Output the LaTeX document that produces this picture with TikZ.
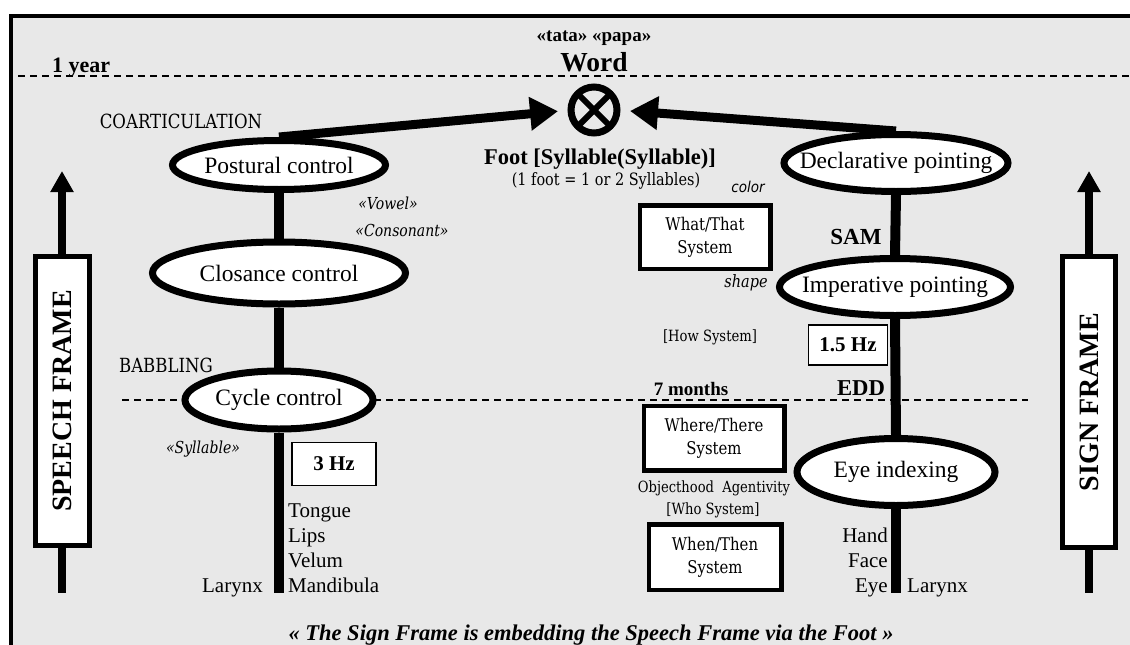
\documentclass[tikz,border=0pt]{standalone}
\usepackage{fontspec}
\setmainfont{Liberation Serif}
\newfontfamily\slab{DejaVu Serif}[FakeStretch=0.85]
\newfontfamily\sansob{DejaVu Sans}[FakeStretch=0.9]
\usetikzlibrary{arrows.meta,shapes.geometric,backgrounds}
\definecolor{bggray}{RGB}{232,232,232}
\newcommand\fsz[2]{\fontsize{#1}{#2}\selectfont}
\begin{document}
\begin{tikzpicture}[x=1pt,y=-1pt,
  ell/.style={ellipse, draw, line width=7pt, fill=white, inner sep=0pt, font=\fsz{23.5}{27}},
  sysbox/.style={rectangle, draw, line width=4.5pt, fill=white, align=center, inner sep=0pt, font=\slab\fsz{17.5}{23}},
  hzbox/.style={rectangle, draw, line width=1.8pt, fill=white, inner sep=0pt, font=\bfseries\fsz{21}{24}},
  framebox/.style={rectangle, draw, line width=5pt, fill=white, inner sep=0pt},
  crossnode/.style={circle, draw, line width=7pt, minimum size=46pt, inner sep=0pt, outer sep=0pt},
  stem/.style={line width=10pt},
  frameline/.style={line width=8pt},
  bigarrow/.style={line width=9pt, -{Triangle[length=28pt,width=32pt]}, shorten >=13pt},
  dashline/.style={line width=1.5pt, dash pattern=on 7pt off 5pt},
  lbl/.style={inner sep=0pt},
  slabtxt/.style={lbl, font=\slab\fsz{19.5}{22}},
  slabit/.style={lbl, font=\slab\itshape\fsz{16.5}{20}},
  boldtxt/.style={lbl, font=\bfseries\fsz{#1}{#1}},
  plaintxt/.style={lbl, font=\fsz{21}{24}}
]
\useasboundingbox (0,0) rectangle (1130,645);

% ellipses
\node[ell, minimum width=213pt, minimum height=49pt] (post) at (279,165) {\makebox[0pt]{Postural control}};
\node[ell, minimum width=253pt, minimum height=62pt] (clos) at (279,273) {\makebox[0pt]{Closance control}};
\node[ell, minimum width=188pt, minimum height=58pt] (cyc) at (279,400) {\makebox[0pt]{Cycle control}};
\node[ell, minimum width=224pt, minimum height=57pt] (decl) at (896,163) {\makebox[0pt]{Declarative pointing}};
\node[ell, minimum width=231pt, minimum height=57pt] (imp) at (895,287) {\makebox[0pt]{Imperative pointing}};
\node[ell, minimum width=198pt, minimum height=67pt] (eye) at (896,472) {\makebox[0pt]{Eye indexing}};

% foot symbol
\node[crossnode] (ot) at (594,110) {};
\draw[line width=6pt] (ot.45) -- (ot.225);
\draw[line width=6pt] (ot.135) -- (ot.315);

% boxes
\node[sysbox, minimum width=130.5pt, minimum height=63.5pt] (what) at (705,237) {What/That\\System};
\node[sysbox, minimum width=140.5pt, minimum height=64.5pt] (where) at (714,438) {Where/There\\System};
\node[sysbox, minimum width=132.5pt, minimum height=65.5pt] (when) at (715,557) {When/Then\\System};
\node[hzbox, minimum width=84pt, minimum height=43pt] (hz3) at (334,464) {3 Hz};
\node[hzbox, minimum width=79pt, minimum height=40pt] (hz15) at (848,345) {1.5 Hz};
\node[framebox, minimum width=54pt, minimum height=289pt] (speech) at (62,401) {\rotatebox{90}{\bfseries\fsz{28}{30}SPEECH FRAME}};
\node[framebox, minimum width=53pt, minimum height=291pt] (sign) at (1089,402) {\rotatebox{90}{\bfseries\fsz{28}{30}SIGN FRAME}};

% coordinates for free ends
\coordinate (lend) at (279,593);
\coordinate (rend) at (896,593);
\coordinate (stip) at (62,171);
\coordinate (sbot) at (62,593);
\coordinate (gtip) at (1089,171);
\coordinate (gbot) at (1089,593);
\coordinate (d1a) at (18,76);
\coordinate (d1b) at (1130,76);
\coordinate (d2a) at (122,400);
\coordinate (d2b) at (1028,400);

\begin{pgfonlayer}{background}
  \fill[white] (0,0) rectangle (1130,645);
  \fill[bggray] (11,16) rectangle (1130,645);
  \draw[line width=4pt] (11,645) -- (11,16) -- (1130,16);
  \draw[dashline] (d1a) -- (d1b);
  \draw[dashline] (d2a) -- (d2b);
  \draw[stem] (post.south) -- (clos.north);
  \draw[stem] (clos.south) -- (cyc.north);
  \draw[stem] (cyc.south) -- (lend);
  \draw[stem] (decl.south) -- (imp.north);
  \draw[stem] (imp.south) -- (eye.north);
  \draw[stem] (eye.south) -- (rend);
  \draw[bigarrow] (post.north) -- (ot.west);
  \draw[bigarrow] (decl.north) -- (ot.east);
  \draw[frameline, -{Triangle[length=21pt,width=22pt]}] (speech.north) -- (stip);
  \draw[frameline] (speech.south) -- (sbot);
  \draw[frameline, -{Triangle[length=21pt,width=22pt]}] (sign.north) -- (gtip);
  \draw[frameline] (sign.south) -- (gbot);
\end{pgfonlayer}

% labels
\node[boldtxt=22, anchor=base west] (year) at (52,72) {1 year};
\node[boldtxt=19] (tata) at (594,38) {«tata» «papa»};
\node[boldtxt=27.5] (word) at (594,62) {Word};
\node[slabtxt] (coart) at (181,121) {COARTICULATION};
\node[slabtxt] (babb) at (166,365) {BABBLING};
\node[slabit] (vowel) at (388,203) {«Vowel»};
\node[slabit] (cons) at (402,230) {«Consonant»};
\node[slabit] (syl) at (203,449) {«Syllable»};
\node[boldtxt=22.5] (foot) at (600,159) {Foot [Syllable(Syllable)]};
\node[lbl, font=\slab\fsz{17}{20}] (footsub) at (606,181) {(1 foot = 1 or 2 Syllables)};
\node[lbl, font=\sansob\itshape\fsz{15}{18}] (color) at (748,187) {color};
\node[slabit, font=\slab\itshape\fsz{17}{20}] (shape) at (746,283) {shape};
\node[lbl, font=\slab\fsz{15.5}{18}] (how) at (710,337) {[How System]};
\node[boldtxt=19] (months) at (691,389) {7 months};
\node[boldtxt=23] (sam) at (856,237) {SAM};
\node[boldtxt=22.7] (edd) at (861,388) {EDD};
\node[lbl, font=\slab\fsz{15.4}{18}] (obj) at (714,488) {Objecthood\ \ Agentivity};
\node[lbl, font=\slab\fsz{15.5}{18}] (who) at (713,510) {[Who System]};

\node[plaintxt, anchor=base west] (tongue) at (288,517) {Tongue};
\node[plaintxt, anchor=base west] (lips) at (288,542) {Lips};
\node[plaintxt, anchor=base west] (velum) at (288,567) {Velum};
\node[plaintxt, anchor=base west] (mand) at (288,592) {Mandibula};
\node[plaintxt, anchor=base east] (larl) at (263,592) {Larynx};
\node[plaintxt, anchor=base east] (hand) at (888,542) {Hand};
\node[plaintxt, anchor=base east] (face) at (888,567) {Face};
\node[plaintxt, anchor=base east] (eyel) at (888,592) {Eye};
\node[plaintxt, anchor=base west] (larr) at (907,592) {Larynx};

\node[lbl, font=\bfseries\itshape\fsz{22.5}{24}, anchor=base] (quote) at (591,640) {« The Sign Frame is embedding the Speech Frame via the Foot »};
\end{tikzpicture}
\end{document}
